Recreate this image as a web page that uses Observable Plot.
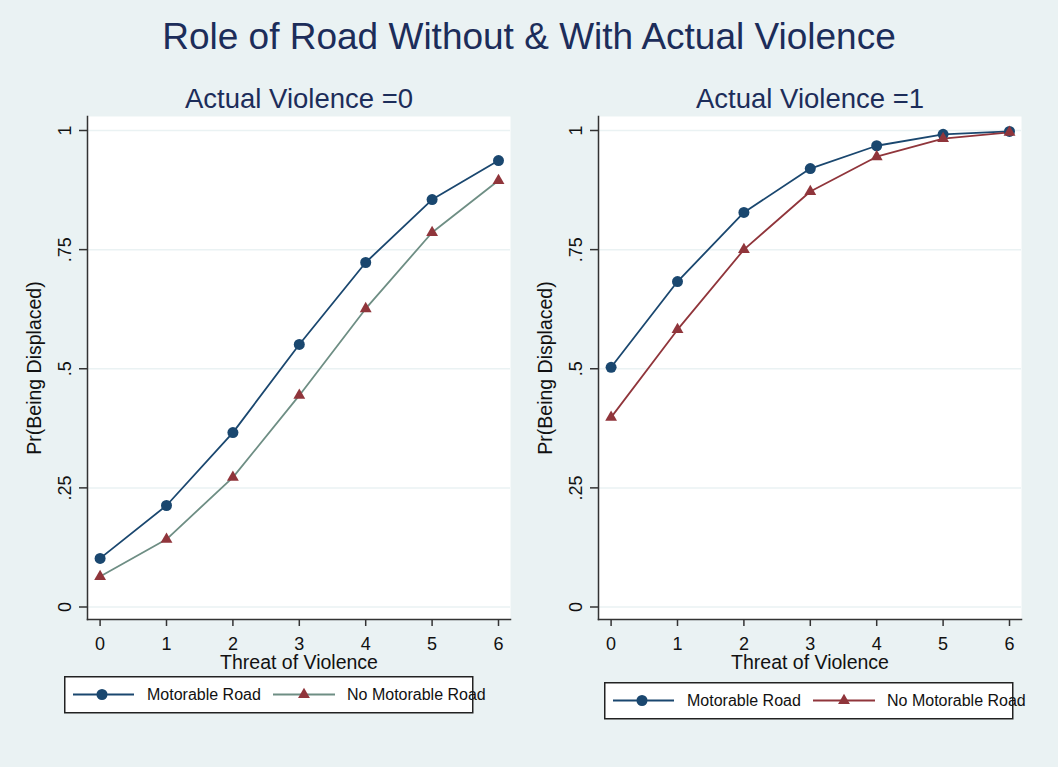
<!DOCTYPE html>
<html>
<head>
<meta charset="utf-8">
<script src="https://cdn.jsdelivr.net/npm/d3@7"></script>
<script src="https://cdn.jsdelivr.net/npm/@observablehq/plot@0.6"></script>
<style>
  body { margin: 0; background: #eaf2f3; }
  #wrap { position: relative; width: 1058px; height: 767px; background: #eaf2f3; overflow: hidden;
          font-family: "Liberation Sans", Arial, sans-serif; }
  #title { position: absolute; left: 0; width: 1058px; top: 18px; text-align: center;
           font-size: 37px; line-height: 37px; color: #1c2d5a; white-space: nowrap; }
  .panel { position: absolute; top: 80px; }
  .legend { position: absolute; overflow: visible; }
</style>
</head>
<body>
<div id="wrap">
  <div id="title">Role of Road Without &amp; With Actual Violence</div>
</div>
<script>
// ---- data ----
const threat = [0, 1, 2, 3, 4, 5, 6];
const panelTitles = ["Actual Violence =0", "Actual Violence =1"];
const seriesNames = ["Motorable Road", "No Motorable Road"];
// Actual Violence = 0
const motorable0   = [0.102, 0.213, 0.366, 0.551, 0.723, 0.855, 0.937];
const noMotorable0 = [0.064, 0.142, 0.272, 0.444, 0.626, 0.786, 0.895];
// Actual Violence = 1
const motorable1   = [0.503, 0.683, 0.828, 0.920, 0.968, 0.992, 0.998];
const noMotorable1 = [0.398, 0.582, 0.750, 0.872, 0.945, 0.983, 0.996];
const yTicks = [0, 0.25, 0.5, 0.75, 1];
const yTickLabels = ["0", ".25", ".5", ".75", "1"];
const xLabel = "Threat of Violence";
const yLabel = "Pr(Being Displaced)";

const navy = "#1a476f", maroon = "#90353b", teal = "#6e8e84";
const font = "Liberation Sans, Arial, sans-serif";
const wrap = document.getElementById("wrap");

function panel(title, mot, nomot, line2Color, left) {
  const d1 = threat.map((t, i) => ({t, v: mot[i]}));
  const d2 = threat.map((t, i) => ({t, v: nomot[i]}));
  const p = Plot.plot({
    width: 529, height: 600,
    marginLeft: 87, marginRight: 19, marginTop: 36, marginBottom: 61,
    insetLeft: 12.6, insetRight: 12, insetTop: 14, insetBottom: 12.5,
    x: {domain: [0, 6]},
    y: {domain: [0, 1]},
    style: {background: "transparent", fontFamily: font, fontSize: "18px", color: "#111", overflow: "visible"},
    marks: [
      Plot.frame({fill: "white", stroke: "none"}),
      Plot.gridY(yTicks, {stroke: "#eaf2f3", strokeOpacity: 1, strokeWidth: 1.5}),
      Plot.frame({anchor: "left", stroke: "#333", strokeWidth: 1.5}),
      Plot.frame({anchor: "bottom", stroke: "#333", strokeWidth: 1.5}),
      Plot.axisY(yTicks, {tickFormat: () => "", tickSize: 8, stroke: "#333", strokeWidth: 1.5, label: null}),
      Plot.axisX(threat, {tickFormat: () => "", tickSize: 7, stroke: "#333", strokeWidth: 1.5, label: null}),
      Plot.text(yTicks, {y: d => d, text: d => yTickLabels[yTicks.indexOf(d)], frameAnchor: "left",
        rotate: -90, textAnchor: "middle", lineAnchor: "middle", dx: -22, fontSize: 18, fill: "#111"}),
      Plot.text(threat, {x: d => d, text: d => String(d), frameAnchor: "bottom",
        textAnchor: "middle", lineAnchor: "middle", dy: 25, fontSize: 18, fill: "#111"}),
      Plot.text([xLabel], {frameAnchor: "bottom", lineAnchor: "middle", textAnchor: "middle", dy: 43, fontSize: 19.5, fill: "#111"}),
      Plot.text([yLabel], {frameAnchor: "left", lineAnchor: "middle", textAnchor: "middle", rotate: -90, dx: -53, fontSize: 19.5, fill: "#111"}),
      Plot.text([title], {frameAnchor: "top", lineAnchor: "middle", textAnchor: "middle", dy: -17, fontSize: 27.5, fill: "#1c2d5a"}),
      Plot.line(d1, {x: "t", y: "v", stroke: navy, strokeWidth: 1.8}),
      Plot.line(d2, {x: "t", y: "v", stroke: line2Color, strokeWidth: 1.8}),
      Plot.dot(d1, {x: "t", y: "v", symbol: "circle", r: 5.5, fill: navy, stroke: "none"}),
      Plot.dot(d2, {x: "t", y: "v", symbol: "triangle", r: 4.4, fill: maroon, stroke: "none"})
    ]
  });
  p.classList.add("panel");
  p.style.left = left + "px";
  wrap.appendChild(p);
}

function legend(left, top, line2Color) {
  const svg = d3.create("svg").attr("class", "legend")
    .attr("width", 430).attr("height", 40)
    .style("left", left + "px").style("top", top + "px");
  svg.append("rect").attr("x", 0.75).attr("y", 0.75).attr("width", 408).attr("height", 36)
    .attr("fill", "white").attr("stroke", "#222").attr("stroke-width", 1.5);
  const cy = 18.5;
  const items = [
    {x0: 9, x1: 70, mx: 38, tx: 83, line: navy, fill: navy, sym: d3.symbolCircle, size: Math.PI * 5.5 * 5.5},
    {x0: 209, x1: 271, mx: 240, tx: 283, line: line2Color, fill: maroon, sym: d3.symbolTriangle, size: Math.PI * 4.4 * 4.4}
  ];
  items.forEach((it, i) => {
    svg.append("line").attr("x1", it.x0).attr("x2", it.x1).attr("y1", cy).attr("y2", cy)
      .attr("stroke", it.line).attr("stroke-width", 1.8);
    svg.append("path").attr("d", d3.symbol(it.sym, it.size)()).attr("transform", `translate(${it.mx},${cy})`)
      .attr("fill", it.fill);
    svg.append("text").attr("x", it.tx).attr("y", cy).attr("dy", "0.35em")
      .attr("font-family", font).attr("font-size", 16).attr("fill", "#111").text(seriesNames[i]);
  });
  wrap.appendChild(svg.node());
}

panel(panelTitles[0], motorable0, noMotorable0, teal, 0);
panel(panelTitles[1], motorable1, noMotorable1, maroon, 511);
legend(64, 676, teal);
legend(604, 682, maroon);
</script>
</body>
</html>
